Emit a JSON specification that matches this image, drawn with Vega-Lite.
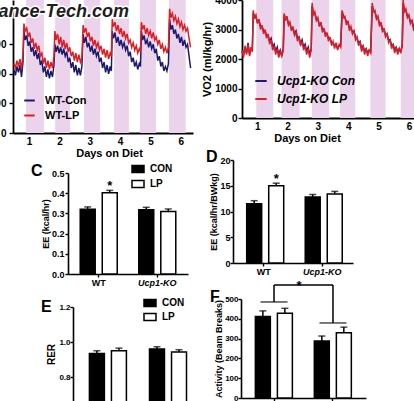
{
  "$schema": "https://vega.github.io/schema/vega-lite/v6.json",
  "background": "white",
  "padding": {"left": -17, "top": -5, "right": 0, "bottom": 0},
  "columns": 2,
  "bounds": "flush",
  "align": "each",
  "spacing": {"row": 27, "column": 40},
  "resolve": {
    "scale": {"color": "independent", "fill": "independent"},
    "legend": {"color": "independent", "fill": "independent"}
  },
  "config": {
    "font": "Liberation Sans",
    "view": {"stroke": null},
    "axis": {
      "grid": false, "domainColor": "black", "domainWidth": 1.6,
      "tickColor": "black", "tickWidth": 1.4, "tickSize": 3, "labelOverlap": false, "tickCount": 20,
      "labelColor": "black", "labelFontWeight": "bold", "labelFontSize": 8, "labelPadding": 1,
      "titleColor": "black", "titleFontWeight": "bold", "titleFontSize": 9, "titlePadding": 2
    },
    "legend": {"labelColor": "black", "labelFontWeight": "bold", "padding": 0},
    "title": {"color": "black", "fontWeight": "bold", "font": "Liberation Sans", "fontSize": 16}
  },
  "datasets": {
    "stripesA": [
      {"d": 0.9, "d2": 1.49}, {"d": 1.86, "d2": 2.35}, {"d": 2.81, "d2": 3.34},
      {"d": 3.8, "d2": 4.29}, {"d": 4.65, "d2": 5.18}, {"d": 5.61, "d2": 6.16}
    ],
    "stripesB": [
      {"d": 0.97, "d2": 1.53}, {"d": 1.8, "d2": 2.4}, {"d": 2.8, "d2": 3.37},
      {"d": 3.73, "d2": 4.23}, {"d": 4.73, "d2": 5.23}, {"d": 5.73, "d2": 6.2}
    ],
    "mark": [{"d": 4.29, "vo2": 3925, "t": "ance-Tech.com"}],
    "wt": [
      {"d": 0.50, "WT-Con": 2150, "WT-LP": 2350}, {"d": 0.55, "WT-Con": 1950, "WT-LP": 2200},
      {"d": 0.60, "WT-Con": 2250, "WT-LP": 2450}, {"d": 0.65, "WT-Con": 2050, "WT-LP": 2250},
      {"d": 0.70, "WT-Con": 2300, "WT-LP": 2500}, {"d": 0.75, "WT-Con": 1900, "WT-LP": 2150},
      {"d": 0.80, "WT-Con": 2400, "WT-LP": 2700}, {"d": 0.83, "WT-Con": 3500, "WT-LP": 3700},
      {"d": 0.87, "WT-Con": 3150, "WT-LP": 3450}, {"d": 0.92, "WT-Con": 3300, "WT-LP": 3550},
      {"d": 0.97, "WT-Con": 2950, "WT-LP": 3250}, {"d": 1.02, "WT-Con": 3100, "WT-LP": 3400},
      {"d": 1.07, "WT-Con": 2750, "WT-LP": 3050}, {"d": 1.12, "WT-Con": 2900, "WT-LP": 3200},
      {"d": 1.17, "WT-Con": 2600, "WT-LP": 2850}, {"d": 1.22, "WT-Con": 2800, "WT-LP": 3050},
      {"d": 1.27, "WT-Con": 2500, "WT-LP": 2800}, {"d": 1.32, "WT-Con": 2700, "WT-LP": 2950},
      {"d": 1.37, "WT-Con": 2300, "WT-LP": 2600}, {"d": 1.42, "WT-Con": 2450, "WT-LP": 2700},
      {"d": 1.47, "WT-Con": 2050, "WT-LP": 2350}, {"d": 1.52, "WT-Con": 2250, "WT-LP": 2550},
      {"d": 1.57, "WT-Con": 1900, "WT-LP": 2200}, {"d": 1.62, "WT-Con": 2150, "WT-LP": 2450},
      {"d": 1.67, "WT-Con": 1850, "WT-LP": 2150}, {"d": 1.72, "WT-Con": 2100, "WT-LP": 2400},
      {"d": 1.77, "WT-Con": 1900, "WT-LP": 2200}, {"d": 1.82, "WT-Con": 2300, "WT-LP": 2600},
      {"d": 1.85, "WT-Con": 3000, "WT-LP": 3450}, {"d": 1.89, "WT-Con": 2750, "WT-LP": 3150},
      {"d": 1.94, "WT-Con": 2950, "WT-LP": 3350}, {"d": 1.99, "WT-Con": 2700, "WT-LP": 3000},
      {"d": 2.04, "WT-Con": 2900, "WT-LP": 3250}, {"d": 2.09, "WT-Con": 2650, "WT-LP": 2900},
      {"d": 2.14, "WT-Con": 2850, "WT-LP": 3150}, {"d": 2.19, "WT-Con": 2600, "WT-LP": 2850},
      {"d": 2.24, "WT-Con": 2750, "WT-LP": 3050}, {"d": 2.29, "WT-Con": 2400, "WT-LP": 2750},
      {"d": 2.34, "WT-Con": 2550, "WT-LP": 2900}, {"d": 2.39, "WT-Con": 2200, "WT-LP": 2600},
      {"d": 2.44, "WT-Con": 2400, "WT-LP": 2750}, {"d": 2.49, "WT-Con": 2050, "WT-LP": 2450},
      {"d": 2.54, "WT-Con": 2300, "WT-LP": 2700}, {"d": 2.59, "WT-Con": 1950, "WT-LP": 2400},
      {"d": 2.64, "WT-Con": 2200, "WT-LP": 2650}, {"d": 2.69, "WT-Con": 1950, "WT-LP": 2400},
      {"d": 2.74, "WT-Con": 2250, "WT-LP": 2550}, {"d": 2.78, "WT-Con": 3350, "WT-LP": 3650},
      {"d": 2.82, "WT-Con": 3050, "WT-LP": 3400}, {"d": 2.87, "WT-Con": 3250, "WT-LP": 3550},
      {"d": 2.92, "WT-Con": 2900, "WT-LP": 3250}, {"d": 2.97, "WT-Con": 3050, "WT-LP": 3400},
      {"d": 3.02, "WT-Con": 2750, "WT-LP": 3100}, {"d": 3.07, "WT-Con": 2950, "WT-LP": 3250},
      {"d": 3.12, "WT-Con": 2650, "WT-LP": 2950}, {"d": 3.17, "WT-Con": 2850, "WT-LP": 3150},
      {"d": 3.22, "WT-Con": 2600, "WT-LP": 2900}, {"d": 3.27, "WT-Con": 2750, "WT-LP": 3050},
      {"d": 3.32, "WT-Con": 2400, "WT-LP": 2800}, {"d": 3.37, "WT-Con": 2550, "WT-LP": 2950},
      {"d": 3.42, "WT-Con": 2200, "WT-LP": 2650}, {"d": 3.47, "WT-Con": 2400, "WT-LP": 2850},
      {"d": 3.52, "WT-Con": 2050, "WT-LP": 2550}, {"d": 3.57, "WT-Con": 2300, "WT-LP": 2800},
      {"d": 3.62, "WT-Con": 2000, "WT-LP": 2500}, {"d": 3.67, "WT-Con": 2250, "WT-LP": 2700},
      {"d": 3.71, "WT-Con": 2100, "WT-LP": 2600}, {"d": 3.74, "WT-Con": 3450, "WT-LP": 3850},
      {"d": 3.78, "WT-Con": 3200, "WT-LP": 3600}, {"d": 3.83, "WT-Con": 3400, "WT-LP": 3750},
      {"d": 3.88, "WT-Con": 3050, "WT-LP": 3450}, {"d": 3.93, "WT-Con": 3250, "WT-LP": 3650},
      {"d": 3.98, "WT-Con": 2950, "WT-LP": 3350}, {"d": 4.03, "WT-Con": 3150, "WT-LP": 3550},
      {"d": 4.08, "WT-Con": 2900, "WT-LP": 3250}, {"d": 4.13, "WT-Con": 3050, "WT-LP": 3450},
      {"d": 4.18, "WT-Con": 2800, "WT-LP": 3200}, {"d": 4.23, "WT-Con": 2950, "WT-LP": 3350},
      {"d": 4.28, "WT-Con": 2600, "WT-LP": 3050}, {"d": 4.33, "WT-Con": 2750, "WT-LP": 3150},
      {"d": 4.38, "WT-Con": 2400, "WT-LP": 2900}, {"d": 4.43, "WT-Con": 2550, "WT-LP": 3050},
      {"d": 4.48, "WT-Con": 2250, "WT-LP": 2800}, {"d": 4.53, "WT-Con": 2400, "WT-LP": 2950},
      {"d": 4.58, "WT-Con": 2150, "WT-LP": 2700}, {"d": 4.63, "WT-Con": 2350, "WT-LP": 2850},
      {"d": 4.67, "WT-Con": 2250, "WT-LP": 2750}, {"d": 4.70, "WT-Con": 3450, "WT-LP": 3750},
      {"d": 4.74, "WT-Con": 3150, "WT-LP": 3500}, {"d": 4.79, "WT-Con": 3300, "WT-LP": 3650},
      {"d": 4.84, "WT-Con": 3000, "WT-LP": 3350}, {"d": 4.89, "WT-Con": 3150, "WT-LP": 3550},
      {"d": 4.94, "WT-Con": 2900, "WT-LP": 3300}, {"d": 4.99, "WT-Con": 3100, "WT-LP": 3450},
      {"d": 5.04, "WT-Con": 2850, "WT-LP": 3200}, {"d": 5.09, "WT-Con": 3000, "WT-LP": 3400},
      {"d": 5.14, "WT-Con": 2700, "WT-LP": 3150}, {"d": 5.19, "WT-Con": 2850, "WT-LP": 3250},
      {"d": 5.24, "WT-Con": 2450, "WT-LP": 3000}, {"d": 5.29, "WT-Con": 2600, "WT-LP": 3150},
      {"d": 5.34, "WT-Con": 2250, "WT-LP": 2850}, {"d": 5.39, "WT-Con": 2400, "WT-LP": 3000},
      {"d": 5.44, "WT-Con": 2100, "WT-LP": 2750}, {"d": 5.49, "WT-Con": 2250, "WT-LP": 2900},
      {"d": 5.54, "WT-Con": 2100, "WT-LP": 2700}, {"d": 5.59, "WT-Con": 2350, "WT-LP": 2900},
      {"d": 5.63, "WT-Con": 3850, "WT-LP": 4200}, {"d": 5.67, "WT-Con": 3500, "WT-LP": 3900},
      {"d": 5.72, "WT-Con": 3650, "WT-LP": 4050}, {"d": 5.77, "WT-Con": 3350, "WT-LP": 3800},
      {"d": 5.82, "WT-Con": 3500, "WT-LP": 3950}, {"d": 5.87, "WT-Con": 3200, "WT-LP": 3700},
      {"d": 5.92, "WT-Con": 3350, "WT-LP": 3850}, {"d": 5.97, "WT-Con": 3050, "WT-LP": 3600},
      {"d": 6.02, "WT-Con": 3250, "WT-LP": 3750}, {"d": 6.07, "WT-Con": 2950, "WT-LP": 3500},
      {"d": 6.12, "WT-Con": 3150, "WT-LP": 3650}, {"d": 6.17, "WT-Con": 2900, "WT-LP": 3450},
      {"d": 6.22, "WT-Con": 3000, "WT-LP": 3550}, {"d": 6.27, "WT-Con": 2600, "WT-LP": 3200},
      {"d": 6.32, "WT-Con": 2200, "WT-LP": 2900}
    ],
    "ko": [
      {"d": 0.50, "Ucp1-KO Con": 2250, "Ucp1-KO LP": 2300}, {"d": 0.55, "Ucp1-KO Con": 2150, "Ucp1-KO LP": 2050},
      {"d": 0.60, "Ucp1-KO Con": 2400, "Ucp1-KO LP": 2450}, {"d": 0.65, "Ucp1-KO Con": 2200, "Ucp1-KO LP": 2150},
      {"d": 0.70, "Ucp1-KO Con": 2550, "Ucp1-KO LP": 2500}, {"d": 0.75, "Ucp1-KO Con": 2150, "Ucp1-KO LP": 2100},
      {"d": 0.80, "Ucp1-KO Con": 2350, "Ucp1-KO LP": 2400}, {"d": 0.84, "Ucp1-KO Con": 2300, "Ucp1-KO LP": 2250},
      {"d": 0.87, "Ucp1-KO Con": 3550, "Ucp1-KO LP": 3650}, {"d": 0.91, "Ucp1-KO Con": 3450, "Ucp1-KO LP": 3400},
      {"d": 0.96, "Ucp1-KO Con": 3400, "Ucp1-KO LP": 3500}, {"d": 1.01, "Ucp1-KO Con": 3250, "Ucp1-KO LP": 3200},
      {"d": 1.06, "Ucp1-KO Con": 3300, "Ucp1-KO LP": 3350}, {"d": 1.11, "Ucp1-KO Con": 3100, "Ucp1-KO LP": 3000},
      {"d": 1.16, "Ucp1-KO Con": 3100, "Ucp1-KO LP": 3150}, {"d": 1.21, "Ucp1-KO Con": 2950, "Ucp1-KO LP": 2850},
      {"d": 1.26, "Ucp1-KO Con": 2950, "Ucp1-KO LP": 3000}, {"d": 1.31, "Ucp1-KO Con": 2800, "Ucp1-KO LP": 2700},
      {"d": 1.36, "Ucp1-KO Con": 2800, "Ucp1-KO LP": 2850}, {"d": 1.41, "Ucp1-KO Con": 2600, "Ucp1-KO LP": 2500},
      {"d": 1.46, "Ucp1-KO Con": 2700, "Ucp1-KO LP": 2650}, {"d": 1.51, "Ucp1-KO Con": 2400, "Ucp1-KO LP": 2300},
      {"d": 1.56, "Ucp1-KO Con": 2500, "Ucp1-KO LP": 2450}, {"d": 1.61, "Ucp1-KO Con": 2250, "Ucp1-KO LP": 2150},
      {"d": 1.66, "Ucp1-KO Con": 2400, "Ucp1-KO LP": 2350}, {"d": 1.71, "Ucp1-KO Con": 2150, "Ucp1-KO LP": 2050},
      {"d": 1.76, "Ucp1-KO Con": 2300, "Ucp1-KO LP": 2250}, {"d": 1.81, "Ucp1-KO Con": 2100, "Ucp1-KO LP": 2100},
      {"d": 1.86, "Ucp1-KO Con": 2350, "Ucp1-KO LP": 2300}, {"d": 1.89, "Ucp1-KO Con": 3500, "Ucp1-KO LP": 3550},
      {"d": 1.93, "Ucp1-KO Con": 3350, "Ucp1-KO LP": 3300}, {"d": 1.98, "Ucp1-KO Con": 3400, "Ucp1-KO LP": 3450},
      {"d": 2.03, "Ucp1-KO Con": 3200, "Ucp1-KO LP": 3150}, {"d": 2.08, "Ucp1-KO Con": 3200, "Ucp1-KO LP": 3250},
      {"d": 2.13, "Ucp1-KO Con": 3000, "Ucp1-KO LP": 2950}, {"d": 2.18, "Ucp1-KO Con": 3050, "Ucp1-KO LP": 3100},
      {"d": 2.23, "Ucp1-KO Con": 2850, "Ucp1-KO LP": 2800}, {"d": 2.28, "Ucp1-KO Con": 2950, "Ucp1-KO LP": 2900},
      {"d": 2.33, "Ucp1-KO Con": 2700, "Ucp1-KO LP": 2600}, {"d": 2.38, "Ucp1-KO Con": 2750, "Ucp1-KO LP": 2750},
      {"d": 2.43, "Ucp1-KO Con": 2500, "Ucp1-KO LP": 2450}, {"d": 2.48, "Ucp1-KO Con": 2650, "Ucp1-KO LP": 2600},
      {"d": 2.53, "Ucp1-KO Con": 2400, "Ucp1-KO LP": 2300}, {"d": 2.58, "Ucp1-KO Con": 2500, "Ucp1-KO LP": 2450},
      {"d": 2.63, "Ucp1-KO Con": 2250, "Ucp1-KO LP": 2150}, {"d": 2.68, "Ucp1-KO Con": 2400, "Ucp1-KO LP": 2350},
      {"d": 2.73, "Ucp1-KO Con": 2150, "Ucp1-KO LP": 2050}, {"d": 2.78, "Ucp1-KO Con": 2350, "Ucp1-KO LP": 2300},
      {"d": 2.81, "Ucp1-KO Con": 3800, "Ucp1-KO LP": 3900}, {"d": 2.85, "Ucp1-KO Con": 3550, "Ucp1-KO LP": 3500},
      {"d": 2.90, "Ucp1-KO Con": 3550, "Ucp1-KO LP": 3600}, {"d": 2.95, "Ucp1-KO Con": 3350, "Ucp1-KO LP": 3300},
      {"d": 3.00, "Ucp1-KO Con": 3350, "Ucp1-KO LP": 3400}, {"d": 3.05, "Ucp1-KO Con": 3150, "Ucp1-KO LP": 3100},
      {"d": 3.10, "Ucp1-KO Con": 3200, "Ucp1-KO LP": 3250}, {"d": 3.15, "Ucp1-KO Con": 3000, "Ucp1-KO LP": 2900},
      {"d": 3.20, "Ucp1-KO Con": 3000, "Ucp1-KO LP": 3050}, {"d": 3.25, "Ucp1-KO Con": 2850, "Ucp1-KO LP": 2750},
      {"d": 3.30, "Ucp1-KO Con": 2850, "Ucp1-KO LP": 2900}, {"d": 3.35, "Ucp1-KO Con": 2700, "Ucp1-KO LP": 2600},
      {"d": 3.40, "Ucp1-KO Con": 2700, "Ucp1-KO LP": 2750}, {"d": 3.45, "Ucp1-KO Con": 2550, "Ucp1-KO LP": 2450},
      {"d": 3.50, "Ucp1-KO Con": 2550, "Ucp1-KO LP": 2600}, {"d": 3.55, "Ucp1-KO Con": 2450, "Ucp1-KO LP": 2350},
      {"d": 3.60, "Ucp1-KO Con": 2500, "Ucp1-KO LP": 2550}, {"d": 3.65, "Ucp1-KO Con": 2350, "Ucp1-KO LP": 2300},
      {"d": 3.70, "Ucp1-KO Con": 2450, "Ucp1-KO LP": 2500}, {"d": 3.75, "Ucp1-KO Con": 2450, "Ucp1-KO LP": 2400},
      {"d": 3.80, "Ucp1-KO Con": 3600, "Ucp1-KO LP": 3650}, {"d": 3.84, "Ucp1-KO Con": 3450, "Ucp1-KO LP": 3400},
      {"d": 3.89, "Ucp1-KO Con": 3400, "Ucp1-KO LP": 3450}, {"d": 3.94, "Ucp1-KO Con": 3250, "Ucp1-KO LP": 3150},
      {"d": 3.99, "Ucp1-KO Con": 3250, "Ucp1-KO LP": 3300}, {"d": 4.04, "Ucp1-KO Con": 3050, "Ucp1-KO LP": 2950},
      {"d": 4.09, "Ucp1-KO Con": 3050, "Ucp1-KO LP": 3100}, {"d": 4.14, "Ucp1-KO Con": 2900, "Ucp1-KO LP": 2850},
      {"d": 4.19, "Ucp1-KO Con": 2950, "Ucp1-KO LP": 2950}, {"d": 4.24, "Ucp1-KO Con": 2750, "Ucp1-KO LP": 2650},
      {"d": 4.29, "Ucp1-KO Con": 2700, "Ucp1-KO LP": 2750}, {"d": 4.34, "Ucp1-KO Con": 2550, "Ucp1-KO LP": 2450},
      {"d": 4.39, "Ucp1-KO Con": 2600, "Ucp1-KO LP": 2600}, {"d": 4.44, "Ucp1-KO Con": 2350, "Ucp1-KO LP": 2250},
      {"d": 4.49, "Ucp1-KO Con": 2450, "Ucp1-KO LP": 2450}, {"d": 4.54, "Ucp1-KO Con": 2250, "Ucp1-KO LP": 2150},
      {"d": 4.59, "Ucp1-KO Con": 2350, "Ucp1-KO LP": 2350}, {"d": 4.64, "Ucp1-KO Con": 2200, "Ucp1-KO LP": 2100},
      {"d": 4.69, "Ucp1-KO Con": 2300, "Ucp1-KO LP": 2300}, {"d": 4.74, "Ucp1-KO Con": 2250, "Ucp1-KO LP": 2200},
      {"d": 4.79, "Ucp1-KO Con": 3800, "Ucp1-KO LP": 3900}, {"d": 4.83, "Ucp1-KO Con": 3650, "Ucp1-KO LP": 3600},
      {"d": 4.88, "Ucp1-KO Con": 3600, "Ucp1-KO LP": 3650}, {"d": 4.93, "Ucp1-KO Con": 3400, "Ucp1-KO LP": 3350},
      {"d": 4.98, "Ucp1-KO Con": 3400, "Ucp1-KO LP": 3450}, {"d": 5.03, "Ucp1-KO Con": 3200, "Ucp1-KO LP": 3100},
      {"d": 5.08, "Ucp1-KO Con": 3200, "Ucp1-KO LP": 3250}, {"d": 5.13, "Ucp1-KO Con": 3000, "Ucp1-KO LP": 2900},
      {"d": 5.18, "Ucp1-KO Con": 3000, "Ucp1-KO LP": 3050}, {"d": 5.23, "Ucp1-KO Con": 2800, "Ucp1-KO LP": 2750},
      {"d": 5.28, "Ucp1-KO Con": 2850, "Ucp1-KO LP": 2850}, {"d": 5.33, "Ucp1-KO Con": 2650, "Ucp1-KO LP": 2550},
      {"d": 5.38, "Ucp1-KO Con": 2650, "Ucp1-KO LP": 2650}, {"d": 5.43, "Ucp1-KO Con": 2450, "Ucp1-KO LP": 2350},
      {"d": 5.48, "Ucp1-KO Con": 2500, "Ucp1-KO LP": 2500}, {"d": 5.53, "Ucp1-KO Con": 2300, "Ucp1-KO LP": 2200},
      {"d": 5.58, "Ucp1-KO Con": 2400, "Ucp1-KO LP": 2400}, {"d": 5.63, "Ucp1-KO Con": 2250, "Ucp1-KO LP": 2150},
      {"d": 5.68, "Ucp1-KO Con": 2350, "Ucp1-KO LP": 2350}, {"d": 5.73, "Ucp1-KO Con": 2250, "Ucp1-KO LP": 2200},
      {"d": 5.78, "Ucp1-KO Con": 2450, "Ucp1-KO LP": 2500}, {"d": 5.81, "Ucp1-KO Con": 3900, "Ucp1-KO LP": 4000},
      {"d": 5.85, "Ucp1-KO Con": 3650, "Ucp1-KO LP": 3600}, {"d": 5.90, "Ucp1-KO Con": 3650, "Ucp1-KO LP": 3700},
      {"d": 5.95, "Ucp1-KO Con": 3450, "Ucp1-KO LP": 3400}, {"d": 6.00, "Ucp1-KO Con": 3450, "Ucp1-KO LP": 3500},
      {"d": 6.05, "Ucp1-KO Con": 3250, "Ucp1-KO LP": 3200}, {"d": 6.10, "Ucp1-KO Con": 3300, "Ucp1-KO LP": 3300},
      {"d": 6.15, "Ucp1-KO Con": 3100, "Ucp1-KO LP": 3000}, {"d": 6.20, "Ucp1-KO Con": 3050, "Ucp1-KO LP": 3100}
    ],
    "ee": [
      {"g": "WT", "diet": "CON", "m": 0.32, "hi": 0.332, "star": ""},
      {"g": "WT", "diet": "LP", "m": 0.402, "hi": 0.414, "star": "*"},
      {"g": "Ucp1-KO", "diet": "CON", "m": 0.318, "hi": 0.33, "star": ""},
      {"g": "Ucp1-KO", "diet": "LP", "m": 0.31, "hi": 0.322, "star": ""}
    ],
    "eebw": [
      {"g": "WT", "diet": "CON", "m": 11.5, "hi": 12.1, "star": ""},
      {"g": "WT", "diet": "LP", "m": 15.0, "hi": 15.5, "star": "*"},
      {"g": "Ucp1-KO", "diet": "CON", "m": 12.8, "hi": 13.3, "star": ""},
      {"g": "Ucp1-KO", "diet": "LP", "m": 13.4, "hi": 13.9, "star": ""}
    ],
    "rer": [
      {"g": "WT", "diet": "CON", "m": 0.935, "hi": 0.95},
      {"g": "WT", "diet": "LP", "m": 0.95, "hi": 0.965},
      {"g": "Ucp1-KO", "diet": "CON", "m": 0.96, "hi": 0.973},
      {"g": "Ucp1-KO", "diet": "LP", "m": 0.943, "hi": 0.956}
    ],
    "act": [
      {"g": "WT", "diet": "CON", "m": 412, "hi": 440},
      {"g": "WT", "diet": "LP", "m": 428, "hi": 453},
      {"g": "Ucp1-KO", "diet": "CON", "m": 288, "hi": 313},
      {"g": "Ucp1-KO", "diet": "LP", "m": 330, "hi": 358}
    ],
    "fbr": [
      {"g": "WT", "lo": 485, "hi": 571},
      {"g": "Ucp1-KO", "lo": 379, "hi": 571}
    ],
    "ftop": [{"g": "WT", "g2": "Ucp1-KO", "y": 571, "ys": 546, "star": "*"}]
  },
  "concat": [
    {
      "width": 180,
      "height": 133,
      "layer": [
        {
          "data": {"name": "stripesA"},
          "mark": {"type": "rect", "color": "#ecd3ec"},
          "encoding": {
            "x": {"field": "d", "type": "quantitative", "title": "Days on Diet"},
            "x2": {"field": "d2"}
          }
        },
        {
          "data": {"name": "wt"},
          "transform": [{"fold": ["WT-Con", "WT-LP"], "as": ["series", "vo2"]}],
          "mark": {"type": "line", "strokeWidth": 1.5},
          "encoding": {
            "x": {
              "field": "d", "type": "quantitative", "title": "Days on Diet",
              "scale": {"domain": [0.47, 6.4], "nice": false, "zero": false},
              "axis": {"values": [1, 2, 3, 4, 5, 6], "tickCount": 20, "format": "d", "ticks": false, "labelPadding": 3,
                       "labelFontSize": 10, "titleFontSize": 11, "titlePadding": 1, "titleX": 96, "domainWidth": 1.8}
            },
            "y": {
              "field": "vo2", "type": "quantitative", "title": null,
              "scale": {"domain": [0, 4500], "nice": false},
              "axis": {"values": [0, 1000, 2000, 3000], "tickCount": 20, "format": "d", "labelFontSize": 10, "labelPadding": 3,
                       "tickSize": 4, "domainWidth": 1.8}
            },
            "color": {
              "field": "series", "type": "nominal",
              "scale": {"domain": ["WT-Con", "WT-LP"], "range": ["#1c1a6e", "#da1f26"]},
              "legend": {"orient": "none", "legendX": 10, "legendY": 94, "title": null, "labelFontSize": 11,
                         "symbolStrokeWidth": 2, "symbolSize": 110, "labelOffset": 9, "rowPadding": 3}
            }
          }
        },
        {
          "data": {"name": "mark"},
          "mark": {"type": "text", "align": "right", "baseline": "alphabetic", "fontSize": 18, "fontWeight": "bold",
                   "fontStyle": "italic", "fill": "white", "stroke": "white", "strokeWidth": 3},
          "encoding": {
            "x": {"field": "d", "type": "quantitative"},
            "y": {"field": "vo2", "type": "quantitative", "title": null},
            "text": {"field": "t"}
          }
        },
        {
          "data": {"name": "mark"},
          "mark": {"type": "text", "align": "right", "baseline": "alphabetic", "fontSize": 18, "fontWeight": "bold",
                   "fontStyle": "italic", "color": "#1e1e1e"},
          "encoding": {
            "x": {"field": "d", "type": "quantitative"},
            "y": {"field": "vo2", "type": "quantitative", "title": null},
            "text": {"field": "t"}
          }
        }
      ]
    },
    {
      "width": 182,
      "height": 118,
      "layer": [
        {
          "data": {"name": "stripesB"},
          "mark": {"type": "rect", "color": "#ecd3ec"},
          "encoding": {
            "x": {"field": "d", "type": "quantitative", "title": "Days on Diet"},
            "x2": {"field": "d2"}
          }
        },
        {
          "data": {"name": "ko"},
          "transform": [{"fold": ["Ucp1-KO Con", "Ucp1-KO LP"], "as": ["series", "vo2"]}],
          "mark": {"type": "line", "strokeWidth": 1.5},
          "encoding": {
            "x": {
              "field": "d", "type": "quantitative", "title": "Days on Diet",
              "scale": {"domain": [0.5, 6.2], "range": [9, 182], "nice": false, "zero": false},
              "axis": {"values": [1, 2, 3, 4, 5, 6], "tickCount": 20, "format": "d", "ticks": false, "labelPadding": 3,
                       "labelFontSize": 10, "titleFontSize": 11, "titlePadding": 1, "titleX": 74, "domainWidth": 1.8}
            },
            "y": {
              "field": "vo2", "type": "quantitative", "title": "VO2 (ml/kg/hr)",
              "scale": {"domain": [0, 4000], "nice": false},
              "axis": {"values": [0, 1000, 2000, 3000, 4000], "tickCount": 20, "format": "d", "labelFontSize": 10, "tickSize": 4, "offset": -9,
                       "titleFontSize": 11, "titlePadding": 2, "domainWidth": 1.8}
            },
            "color": {
              "field": "series", "type": "nominal",
              "scale": {"domain": ["Ucp1-KO Con", "Ucp1-KO LP"], "range": ["#1c1a6e", "#da1f26"]},
              "legend": {"orient": "none", "legendX": 21, "legendY": 74, "title": null, "labelFontSize": 12,
                         "labelFontStyle": "italic", "symbolStrokeWidth": 2, "symbolSize": 130, "labelOffset": 9, "rowPadding": 5}
            }
          }
        }
      ]
    },
    {
      "width": 180,
      "height": 114,
      "data": {"name": "ee"},
      "title": {"text": "C", "anchor": "start", "frame": "group", "orient": "top", "baseline": "top", "offset": 0, "dx": 18, "dy": 19},
      "encoding": {
        "x": {
          "field": "g", "type": "nominal", "sort": ["WT", "Ucp1-KO"], "title": null,
          "scale": {"range": [55, 175], "paddingInner": 0.3, "paddingOuter": 0.175},
          "axis": {"labelAngle": 0, "labelFontSize": 9, "tickSize": 3, "labelPadding": 1,
                   "labelFontStyle": {"condition": {"test": "datum.value === 'Ucp1-KO'", "value": "italic"}, "value": "normal"}}
        },
        "xOffset": {"field": "diet", "type": "nominal", "sort": ["CON", "LP"], "scale": {"paddingInner": 0.32, "paddingOuter": 0.09}}
      },
      "layer": [
        {
          "mark": {"type": "bar", "stroke": "black", "strokeWidth": 1.5},
          "encoding": {
            "y": {
              "field": "m", "type": "quantitative", "title": "EE (kcal/hr)",
              "scale": {"domain": [0, 0.5], "range": [114, 13], "nice": false},
              "axis": {"values": [0, 0.1, 0.2, 0.3, 0.4, 0.5], "tickCount": 20, "format": ".1f", "offset": -55,
                       "labelFontSize": 9, "titlePadding": 1}
            },
            "fill": {
              "field": "diet", "type": "nominal",
              "scale": {"domain": ["CON", "LP"], "range": ["black", "white"]},
              "legend": {"orient": "none", "legendX": 118, "legendY": 2, "title": null, "labelFontSize": 10,
                         "symbolType": "M-1,-0.58H1V0.58H-1Z", "symbolSize": 144, "symbolStrokeColor": "black",
                         "symbolStrokeWidth": 1.5, "labelOffset": 5, "rowPadding": 1}
            }
          }
        },
        {
          "mark": {"type": "rule", "strokeWidth": 1.5, "color": "black"},
          "encoding": {"y": {"field": "m", "type": "quantitative", "title": "EE (kcal/hr)"}, "y2": {"field": "hi"}}
        },
        {
          "mark": {"type": "tick", "thickness": 1.5, "size": 7, "color": "black"},
          "encoding": {"y": {"field": "hi", "type": "quantitative", "title": "EE (kcal/hr)"}}
        },
        {
          "mark": {"type": "text", "fontSize": 13, "fontWeight": "bold", "baseline": "alphabetic", "color": "black"},
          "encoding": {"y": {"field": "hi", "type": "quantitative", "title": "EE (kcal/hr)"}, "text": {"field": "star"}}
        }
      ]
    },
    {
      "width": 120,
      "height": 103,
      "data": {"name": "eebw"},
      "title": {"text": "D", "anchor": "start", "frame": "group", "orient": "top", "baseline": "top", "offset": 0, "dx": -27, "dy": 9},
      "encoding": {
        "x": {
          "field": "g", "type": "nominal", "sort": ["WT", "Ucp1-KO"], "title": null,
          "scale": {"paddingInner": 0.35, "paddingOuter": 0.2},
          "axis": {"labelAngle": 0, "labelFontSize": 9, "tickSize": 3, "labelPadding": 1,
                   "labelFontStyle": {"condition": {"test": "datum.value === 'Ucp1-KO'", "value": "italic"}, "value": "normal"}}
        },
        "xOffset": {"field": "diet", "type": "nominal", "sort": ["CON", "LP"], "scale": {"paddingInner": 0.26, "paddingOuter": 0.13}}
      },
      "layer": [
        {
          "mark": {"type": "bar", "stroke": "black", "strokeWidth": 1.5},
          "encoding": {
            "y": {
              "field": "m", "type": "quantitative", "title": "EE (kcal/hr/BWkg)",
              "scale": {"domain": [0, 20], "nice": false},
              "axis": {"values": [0, 5, 10, 15, 20], "tickCount": 20, "labelFontSize": 9, "labelPadding": 0, "titlePadding": 1}
            },
            "fill": {
              "field": "diet", "type": "nominal",
              "scale": {"domain": ["CON", "LP"], "range": ["black", "white"]},
              "legend": null
            }
          }
        },
        {
          "mark": {"type": "rule", "strokeWidth": 1.5, "color": "black"},
          "encoding": {"y": {"field": "m", "type": "quantitative", "title": "EE (kcal/hr/BWkg)"}, "y2": {"field": "hi"}}
        },
        {
          "mark": {"type": "tick", "thickness": 1.5, "size": 7, "color": "black"},
          "encoding": {"y": {"field": "hi", "type": "quantitative", "title": "EE (kcal/hr/BWkg)"}}
        },
        {
          "mark": {"type": "text", "fontSize": 13, "fontWeight": "bold", "baseline": "alphabetic", "color": "black"},
          "encoding": {"y": {"field": "hi", "type": "quantitative", "title": "EE (kcal/hr/BWkg)"}, "text": {"field": "star"}}
        }
      ]
    },
    {
      "width": 180,
      "height": 100,
      "data": {"name": "rer"},
      "title": {"text": "E", "anchor": "start", "frame": "group", "orient": "top", "baseline": "top", "offset": 0, "dx": 28, "dy": 19},
      "encoding": {
        "x": {
          "field": "g", "type": "nominal", "sort": ["WT", "Ucp1-KO"], "title": null,
          "scale": {"range": [60, 191], "paddingInner": 0.3, "paddingOuter": 0.24},
          "axis": null
        },
        "xOffset": {"field": "diet", "type": "nominal", "sort": ["CON", "LP"], "scale": {"paddingInner": 0.32, "paddingOuter": 0.115}}
      },
      "layer": [
        {
          "mark": {"type": "bar", "stroke": "black", "strokeWidth": 1.5, "clip": true},
          "encoding": {
            "y": {
              "field": "m", "type": "quantitative", "title": "RER",
              "scale": {"domain": [0.663, 1.2], "range": [100, 6], "nice": false, "zero": false},
              "axis": {"values": [0.8, 1.0, 1.2], "tickCount": 20, "format": ".1f", "offset": -60, "labelPadding": 0,
                       "titleFontSize": 10, "titlePadding": 2}
            },
            "fill": {
              "field": "diet", "type": "nominal",
              "scale": {"domain": ["CON", "LP"], "range": ["black", "white"]},
              "legend": {"orient": "none", "legendX": 130, "legendY": -5, "title": null, "labelFontSize": 10,
                         "symbolType": "M-1,-0.58H1V0.58H-1Z", "symbolSize": 144, "symbolStrokeColor": "black",
                         "symbolStrokeWidth": 1.5, "labelOffset": 5, "rowPadding": 0}
            }
          }
        },
        {
          "mark": {"type": "rule", "strokeWidth": 1.5, "color": "black"},
          "encoding": {"y": {"field": "m", "type": "quantitative", "title": "RER"}, "y2": {"field": "hi"}}
        },
        {
          "mark": {"type": "tick", "thickness": 1.5, "size": 7, "color": "black"},
          "encoding": {"y": {"field": "hi", "type": "quantitative", "title": "RER"}}
        }
      ]
    },
    {
      "width": 133,
      "height": 97,
      "title": {"text": "F", "anchor": "start", "frame": "group", "orient": "top", "baseline": "top", "offset": 0, "dx": -23, "dy": 25},
      "layer": [
        {
          "data": {"name": "act"},
          "mark": {"type": "bar", "stroke": "black", "strokeWidth": 1.5},
          "encoding": {
            "x": {
              "field": "g", "type": "nominal", "sort": ["WT", "Ucp1-KO"], "title": null,
              "scale": {"range": [8, 133], "paddingInner": 0.3, "paddingOuter": 0.21},
              "axis": {"labels": false, "tickSize": 3}
            },
            "xOffset": {"field": "diet", "type": "nominal", "sort": ["CON", "LP"], "scale": {"paddingInner": 0.25, "paddingOuter": 0.11}},
            "y": {
              "field": "m", "type": "quantitative", "title": "Activity (Beam Breaks)",
              "scale": {"domain": [0, 500], "range": [97, -2], "nice": false},
              "axis": {"values": [0, 100, 200, 300, 400, 500], "tickCount": 20, "offset": -8, "labelPadding": 0, "titlePadding": 1}
            },
            "fill": {
              "field": "diet", "type": "nominal",
              "scale": {"domain": ["CON", "LP"], "range": ["black", "white"]},
              "legend": null
            }
          }
        },
        {
          "data": {"name": "act"},
          "mark": {"type": "rule", "strokeWidth": 1.5, "color": "black"},
          "encoding": {
            "x": {"field": "g", "type": "nominal", "sort": ["WT", "Ucp1-KO"], "title": null},
            "xOffset": {"field": "diet", "type": "nominal", "sort": ["CON", "LP"]},
            "y": {"field": "m", "type": "quantitative", "title": "Activity (Beam Breaks)"},
            "y2": {"field": "hi"}
          }
        },
        {
          "data": {"name": "act"},
          "mark": {"type": "tick", "thickness": 1.5, "size": 7, "color": "black"},
          "encoding": {
            "x": {"field": "g", "type": "nominal", "sort": ["WT", "Ucp1-KO"], "title": null},
            "xOffset": {"field": "diet", "type": "nominal", "sort": ["CON", "LP"]},
            "y": {"field": "hi", "type": "quantitative", "title": "Activity (Beam Breaks)"}
          }
        },
        {
          "data": {"name": "fbr"},
          "mark": {"type": "tick", "thickness": 1.5, "size": 27, "color": "black"},
          "encoding": {
            "x": {"field": "g", "type": "nominal", "sort": ["WT", "Ucp1-KO"], "title": null},
            "y": {"field": "lo", "type": "quantitative", "title": "Activity (Beam Breaks)"}
          }
        },
        {
          "data": {"name": "fbr"},
          "mark": {"type": "rule", "strokeWidth": 1.5, "color": "black"},
          "encoding": {
            "x": {"field": "g", "type": "nominal", "sort": ["WT", "Ucp1-KO"], "title": null},
            "y": {"field": "lo", "type": "quantitative", "title": "Activity (Beam Breaks)"},
            "y2": {"field": "hi"}
          }
        },
        {
          "data": {"name": "ftop"},
          "mark": {"type": "rule", "strokeWidth": 1.5, "color": "black"},
          "encoding": {
            "x": {"field": "g", "type": "nominal", "sort": ["WT", "Ucp1-KO"], "title": null},
            "x2": {"field": "g2"},
            "y": {"field": "y", "type": "quantitative", "title": "Activity (Beam Breaks)"}
          }
        },
        {
          "data": {"name": "ftop"},
          "mark": {"type": "text", "fontSize": 13, "fontWeight": "bold", "baseline": "alphabetic", "color": "black", "dx": 25},
          "encoding": {
            "x": {"field": "g", "type": "nominal", "sort": ["WT", "Ucp1-KO"], "title": null},
            "y": {"field": "ys", "type": "quantitative", "title": "Activity (Beam Breaks)"},
            "text": {"field": "star"}
          }
        }
      ]
    }
  ]
}
